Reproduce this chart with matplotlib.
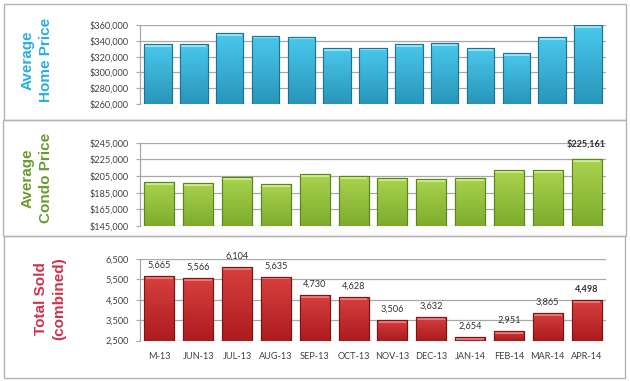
import numpy as np
import matplotlib
matplotlib.use("Agg")
import matplotlib.pyplot as plt
from matplotlib.patches import Rectangle
from matplotlib.colors import LinearSegmentedColormap
from matplotlib.ticker import FuncFormatter

# ---- data ----
home_prices = [335600, 336000, 349500, 346500, 345200, 330500, 331300,
               336000, 336800, 330500, 324000, 344400, 360000]
months = ["M-13", "JUN-13", "JUL-13", "AUG-13", "SEP-13", "OCT-13",
          "NOV-13", "DEC-13", "JAN-14", "FEB-14", "MAR-14", "APR-14"]
condo_prices = [198200, 197000, 203800, 195400, 207400, 204600,
                202200, 201400, 203000, 211800, 211800, 225161]
total_sold = [5665, 5566, 6104, 5635, 4730, 4628,
              3506, 3632, 2654, 2951, 3865, 4498]

home_ticks = [260000, 280000, 300000, 320000, 340000, 360000]
condo_ticks = [145000, 165000, 185000, 205000, 225000, 245000]
sold_ticks = [2500, 3500, 4500, 5500, 6500]

W, H = 630, 381
fig = plt.figure(figsize=(W / 100, H / 100), dpi=100)
fig.patch.set_facecolor("white")

FONT = "Lato"
FS = 6.6
TICKC = "#404040"
TFONT = "Liberation Sans"
TFS = 11


def fx(px):
    return px / W


def fy(py):
    return 1 - py / H


def panel(x0, y0, x1, y1):
    fig.add_artist(Rectangle((fx(x0), fy(y1)), fx(x1 - x0), (y1 - y0) / H,
                             transform=fig.transFigure, fill=False,
                             edgecolor="#b4b4b4", linewidth=1.0))


def make_axes(x0, ytop, x1, ybot):
    return fig.add_axes([fx(x0), fy(ybot), fx(x1 - x0), (ybot - ytop) / H])


def grad_bars(ax, x, vals, base, width, c_top, c_bot, c_edge, c_cap):
    cmap = LinearSegmentedColormap.from_list("g", [c_bot, c_top])
    bars = ax.bar(x, np.array(vals) - base, bottom=base, width=width,
                  color=c_bot, edgecolor=c_edge, linewidth=0.8, zorder=3)
    grad = np.linspace(0, 1, 64).reshape(-1, 1)
    ymin, ymax = ax.get_ylim()
    for b in bars:
        bx, by = b.get_x(), b.get_y()
        bw, bh = b.get_width(), b.get_height()
        im = ax.imshow(grad, cmap=cmap, origin="lower", aspect="auto",
                       extent=[bx, bx + bw, by, by + bh], zorder=3.5)
        im.set_clip_path(b)
        cap = (ymax - ymin) * 0.035
        ax.add_patch(Rectangle((bx + bw * 0.04, by + bh - cap), bw * 0.92, cap,
                               facecolor=c_cap, edgecolor="none", zorder=4,
                               alpha=0.9))
        ax.add_patch(Rectangle((bx, by), bw, bh, fill=False,
                               edgecolor=c_edge, linewidth=0.8, zorder=5))
    ax.set_ylim(ymin, ymax)
    return bars


def style(ax, ticks, fmt):
    ax.set_ylim(ticks[0], ticks[-1])
    ax.set_yticks(ticks)
    ax.yaxis.set_major_formatter(FuncFormatter(fmt))
    ax.grid(axis="y", color="#a8a8a8", linewidth=0.9, zorder=0)
    ax.set_axisbelow(True)
    for s in ["top", "right", "bottom"]:
        ax.spines[s].set_visible(False)
    ax.spines["left"].set_color("#a8a8a8")
    ax.spines["left"].set_linewidth(0.9)
    ax.tick_params(axis="y", length=3, color="#a8a8a8", labelsize=FS,
                   labelcolor=TICKC, pad=5)
    for lab in ax.get_yticklabels():
        lab.set_fontfamily(FONT)
    ax.set_facecolor("none")


def title(px, py, txt, color):
    fig.text(fx(px), fy(py), txt, rotation=90, ha="center", va="center",
             color=color, fontsize=TFS, fontweight="bold", family=TFONT,
             linespacing=1.4)


# panels
panel(4, 4, 626, 120)
panel(3, 120, 626, 236)
panel(4, 236, 625, 378)

dollar = lambda v, p: "${:,.0f}".format(v)
comma = lambda v, p: "{:,.0f}".format(v)

AX_L, AX_R = 140, 606

# ---- panel 1 ----
ax1 = make_axes(AX_L, 25, AX_R, 104)
style(ax1, home_ticks, dollar)
x1 = np.arange(len(home_prices))
ax1.set_xlim(-0.5, len(home_prices) - 0.5)
grad_bars(ax1, x1, home_prices, home_ticks[0], 0.77,
          "#4ac8ec", "#2896ba", "#1d7390", "#a6e6f7")
ax1.set_xticks([])
ax1.set_ylim(home_ticks[0], home_ticks[-1])
title(37, 60, "Average\nHome Price", "#2aaee3")

# ---- panel 2 ----
ax2 = make_axes(AX_L, 142.7, AX_R, 226)
style(ax2, condo_ticks, dollar)
x2 = np.arange(len(condo_prices))
ax2.set_xlim(-0.5, len(condo_prices) - 0.5)
grad_bars(ax2, x2, condo_prices, condo_ticks[0], 0.77,
          "#a9d34f", "#7dac2c", "#5b861c", "#d3ec96")
ax2.set_xticks([])
ax2.set_ylim(condo_ticks[0], condo_ticks[-1])
ax2.text(x2[-1], condo_ticks[-1] - 1800, "${:,.0f}".format(condo_prices[-1]),
         ha="center", va="center", fontsize=FS, fontweight="bold",
         color="#303030", family=FONT, zorder=6)
title(37, 178, "Average\nCondo Price", "#6b9a2f")

# ---- panel 3 ----
ax3 = make_axes(AX_L, 259, AX_R, 340.5)
style(ax3, sold_ticks, comma)
x3 = np.arange(len(total_sold))
ax3.set_xlim(-0.5, len(total_sold) - 0.5)
grad_bars(ax3, x3, total_sold, sold_ticks[0], 0.77,
          "#d8403e", "#ad1c20", "#7c1316", "#ec8080")
ax3.set_ylim(sold_ticks[0], sold_ticks[-1])
ax3.set_xticks(x3)
ax3.set_xticklabels(months, fontsize=FS, color=TICKC, family=FONT)
ax3.tick_params(axis="x", length=0, pad=8)
for i, v in enumerate(total_sold):
    ax3.annotate("{:,}".format(v), (x3[i], v), xytext=(0, 4.5),
                 textcoords="offset points", ha="center", va="bottom",
                 fontsize=FS, color="#303030", family=FONT,
                 fontweight="bold" if i == len(total_sold) - 1 else "normal",
                 annotation_clip=False, zorder=6)
title(50, 299, "Total Sold\n(combined)", "#d0324a")

fig.savefig("out.png", dpi=100, facecolor="white")
